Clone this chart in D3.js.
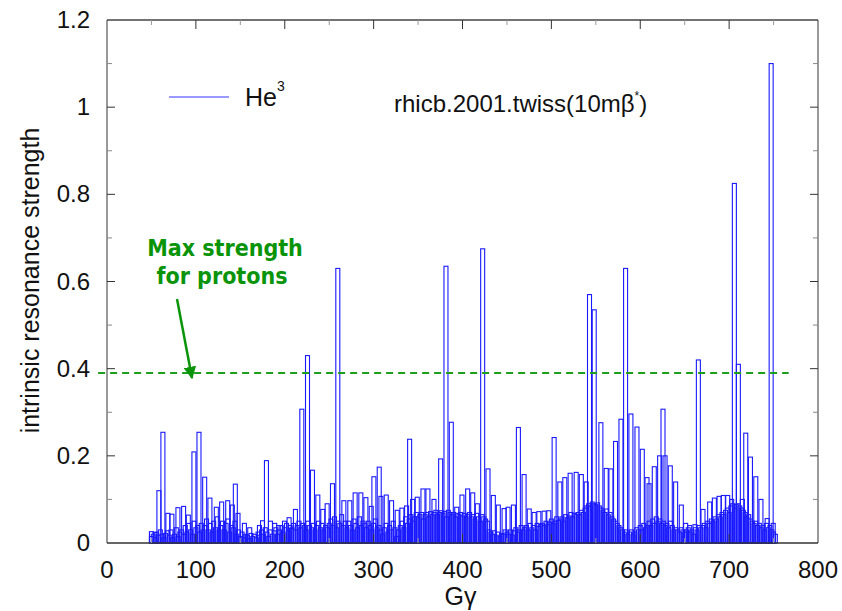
<!DOCTYPE html>
<html>
<head>
<meta charset="utf-8">
<script src="https://cdn.jsdelivr.net/npm/d3@7"></script>
<style>
  body { margin: 0; background: #fff; }
  text { font-family: "Liberation Sans", Arial, Helvetica, sans-serif; }
</style>
</head>
<body>
<div id="chart"></div>
<script>
// resonance positions (G gamma) and strengths of the outlined bars
let peakGG = [50, 54, 58.4, 62.9, 68.5, 73, 79.8, 86.2, 91.5, 97.8,
  103.5, 109.9, 115.8, 123, 129, 135.8, 141, 144.4, 147.4, 154.6,
  160.6, 171.5, 175, 179.4, 183.9, 188.7, 193.2, 199.7, 204.9, 207.6,
  212, 219.2, 225.6, 231.2, 237.2, 242.8, 247.7, 253.7, 259.7, 266.5,
  273.2, 279.2, 285.6, 291.3, 297.3, 300.3, 306.3, 308.2, 314.2, 320.2,
  326.5, 331.8, 337.1, 340.5, 343.9, 349.1, 355.5, 361.1, 367.9, 375.4,
  381.4, 387.4, 393.5, 399.4, 405.8, 411.5, 416.7, 422.7, 428.7, 434.7,
  440.3, 446.8, 451.3, 457.3, 462.9, 469.3, 475.1, 480.6, 485.9, 491.8,
  497.1, 503.1, 509.5, 515.1, 521.1, 527.9, 533.7, 539.2, 542.9, 548.2,
  555.7, 561.7, 567, 572.2, 578.3, 583.5, 589.5, 596.3, 602.3, 607.6,
  609.9, 615.8, 621.8, 625.6, 627.9, 633.8, 639.8, 646.2, 651.1, 655.6,
  661.6, 665.4, 670.6, 678.1, 683.4, 688.7, 693.5, 698.4, 702.9, 705.9,
  710.4, 714.9, 718.7, 724, 730, 735.8, 742.8, 747.3, 749.6];
let peakStrength = [.026, .024, .12, .254, .068, .066, .081, .084, .064, .209,
  .254, .151, .103, .082, .094, .097, .087, .135, .068, .045,
  .035, .04, .051, .189, .05, .045, .04, .05, .058, .033,
  .077, .307, .43, .167, .11, .077, .09, .136, .63, .097,
  .097, .115, .115, .104, .084, .152, .174, .107, .11, .097,
  .075, .08, .085, .238, .1, .105, .124, .124, .1, .193,
  .635, .277, .082, .11, .124, .115, .09, .675, .17, .109,
  .087, .079, .082, .087, .265, .157, .078, .07, .072, .073,
  .074, .242, .14, .15, .16, .162, .157, .14, .57, .535,
  .276, .171, .17, .233, .284, .63, .296, .266, .215, .15,
  .136, .175, .2, .307, .2, .177, .14, .087, .045, .04,
  .042, .42, .077, .094, .103, .107, .109, .109, .1, .825,
  .41, .1, .252, .197, .152, .1, .056, 1.1, .045];

// the dense carpet of weak resonances, one every 2 units of G gamma from 50
let denseStart = 50;
let denseStep = 2;
let denseStrength = [
  .015, .02, .012, .025, .018, .03, .02, .012, .022, .028,
  .018, .03, .012, .02, .035, .015, .025, .03, .02, .04,
  .025, .045, .03, .02, .05, .035, .04, .025, .045, .03,
  .04, .055, .03, .045, .025, .05, .035, .06, .03, .04,
  .05, .03, .045, .055, .025, .04, .035, .05, .02, .03,
  .015, .025, .012, .02, .018, .01, .022, .015, .02, .012,
  .025, .018, .03, .02, .035, .025, .015, .03, .02, .028,
  .035, .02, .03, .04, .025, .035, .045, .03, .04, .035,
  .045, .03, .04, .05, .035, .045, .04, .03, .05, .04,
  .035, .045, .03, .04, .05, .035, .045, .03, .04, .035,
  .045, .055, .04, .06, .035, .05, .045, .065, .04, .05,
  .035, .05, .04, .03, .055, .045, .035, .06, .04, .05,
  .045, .035, .05, .04, .03, .045, .055, .035, .04, .03,
  .02, .035, .045, .025, .04, .03, .05, .035, .015, .03,
  .04, .05, .035, .06, .045, .055, .065, .05, .06, .07,
  .06, .065, .07, .055, .065, .07, .06, .072, .065, .07,
  .075, .065, .07, .074, .068, .072, .06, .075, .07, .065,
  .07, .06, .068, .065, .07, .062, .068, .06, .065, .07,
  .06, .065, .055, .068, .06, .05, .065, .06, .055, .05,
  .03, .025, .02, .028, .018, .025, .015, .022, .02, .03,
  .025, .02, .03, .018, .028, .035, .025, .03, .04, .03,
  .035, .04, .03, .045, .035, .04, .03, .045, .038, .042,
  .045, .04, .05, .042, .048, .055, .045, .05, .06, .052,
  .055, .06, .05, .065, .058, .062, .07, .06, .068, .065,
  .07, .065, .075, .07, .08, .085, .09, .085, .094, .09,
  .088, .092, .085, .08, .075, .07, .078, .065, .07, .06,
  .055, .05, .045, .04, .035, .03, .025, .03, .02, .025,
  .03, .02, .025, .035, .03, .04, .03, .045, .035, .04,
  .05, .04, .055, .045, .06, .05, .055, .045, .05, .04,
  .045, .035, .05, .04, .03, .035, .03, .025, .035, .03,
  .025, .03, .035, .025, .03, .02, .035, .03, .04, .035,
  .04, .045, .035, .05, .045, .055, .05, .06, .055, .065,
  .06, .07, .065, .075, .08, .07, .085, .09, .08, .088,
  .09, .085, .08, .075, .07, .06, .065, .055, .05, .045,
  .05, .04, .045, .035, .04, .03, .045, .035, .04, .03,
  .025, .02];

let xTicks = [0, 100, 200, 300, 400, 500, 600, 700, 800];
let yTicks = [0, 0.2, 0.4, 0.6, 0.8, 1, 1.2];
let protonMax = 0.39;
let barWidth = 4.5; // in G gamma units

let areaWidth = 842;
let areaHeight = 611;
let border = { top: 20, bottom: 68, right: 24, left: 107 };
let width = areaWidth - border.left - border.right;
let height = areaHeight - border.top - border.bottom;

let svg = d3.select("#chart").append("svg")
  .attr("width", areaWidth)
  .attr("height", areaHeight);

let plotGroup = svg.append("g")
  .attr("transform", `translate(${border.left}, ${border.top})`);

let xScale = d3.scaleLinear().domain([0, 800]).range([0, width]);
let yScale = d3.scaleLinear().domain([0, 1.2]).range([height, 0]);

let peaks = peakGG.map((g, i) => ({ gg: g, s: peakStrength[i] }));
let dense = denseStrength.map((s, i) => ({ gg: denseStart + i * denseStep, s: s }));

function drawBars(data, cls) {
  plotGroup.append("g").attr("class", cls)
    .selectAll("rect").data(data).enter().append("rect")
    .attr("x", d => xScale(d.gg - barWidth / 2))
    .attr("y", d => yScale(d.s))
    .attr("width", xScale(barWidth) - xScale(0))
    .attr("height", d => yScale(0) - yScale(d.s))
    .attr("fill", "none")
    .attr("stroke", "#1a1aff")
    .attr("stroke-width", 1.1);
}

drawBars(dense, "dense");
drawBars(peaks, "peaks");

// frame with inward ticks, gnuplot style
let frame = plotGroup.append("g");
frame.append("line").attr("x1", 0).attr("x2", 0).attr("y1", 0).attr("y2", height)
  .attr("stroke", "#999").attr("stroke-width", 2);
frame.append("line").attr("x1", width).attr("x2", width).attr("y1", 0).attr("y2", height)
  .attr("stroke", "#999").attr("stroke-width", 2);
frame.append("line").attr("x1", 0).attr("x2", width).attr("y1", 0).attr("y2", 0)
  .attr("stroke", "#444").attr("stroke-width", 1.5);
frame.append("line").attr("x1", 0).attr("x2", width).attr("y1", height).attr("y2", height)
  .attr("stroke", "#333").attr("stroke-width", 1.5);

let yMinor = d3.range(1, 12).map(d => d / 10);
frame.selectAll(".ytickL").data(yMinor).enter().append("line")
  .attr("x1", 0).attr("x2", (d, i) => i % 2 === 1 ? 8 : 5)
  .attr("y1", d => yScale(d)).attr("y2", d => yScale(d))
  .attr("stroke", (d, i) => i % 2 === 1 ? "#333" : "#888").attr("stroke-width", 1);
frame.selectAll(".ytickR").data(yMinor).enter().append("line")
  .attr("x1", width).attr("x2", (d, i) => width - (i % 2 === 1 ? 8 : 5))
  .attr("y1", d => yScale(d)).attr("y2", d => yScale(d))
  .attr("stroke", (d, i) => i % 2 === 1 ? "#333" : "#888").attr("stroke-width", 1);

let xMinor = d3.range(50, 800, 50);
frame.selectAll(".xtickT").data(xMinor).enter().append("line")
  .attr("x1", d => xScale(d)).attr("x2", d => xScale(d))
  .attr("y1", 0).attr("y2", d => d % 100 === 0 ? 9 : 5)
  .attr("stroke", d => d % 100 === 0 ? "#333" : "#999").attr("stroke-width", 1);
frame.selectAll(".xtickB").data(xMinor).enter().append("line")
  .attr("x1", d => xScale(d)).attr("x2", d => xScale(d))
  .attr("y1", height).attr("y2", d => height - (d % 100 === 0 ? 9 : 5))
  .attr("stroke", d => d % 100 === 0 ? "#333" : "#999").attr("stroke-width", 1);

// tick labels
plotGroup.selectAll(".ylab").data(yTicks).enter().append("text")
  .attr("x", -17).attr("y", d => yScale(d) + 8)
  .attr("text-anchor", "end").attr("font-size", "24px").attr("fill", "#111")
  .text(d => d3.format("~g")(d));
plotGroup.selectAll(".xlab").data(xTicks).enter().append("text")
  .attr("x", d => xScale(d)).attr("y", height + 35)
  .attr("text-anchor", "middle").attr("font-size", "24px").attr("fill", "#111")
  .text(d => d);

// axis titles
svg.append("text")
  .attr("transform", `translate(39, ${border.top + height / 2 - 1}) rotate(-90)`)
  .attr("text-anchor", "middle").attr("font-size", "25px").attr("fill", "#111")
  .text("intrinsic resonance strength");
svg.append("text")
  .attr("x", border.left + width / 2 - 2).attr("y", 605)
  .attr("text-anchor", "middle").attr("font-size", "25px").attr("fill", "#111")
  .text("Gγ");

// proton limit
plotGroup.append("line")
  .attr("x1", xScale(-10)).attr("x2", xScale(767))
  .attr("y1", yScale(protonMax)).attr("y2", yScale(protonMax))
  .attr("stroke", "#1d9f1d").attr("stroke-width", 2)
  .attr("stroke-dasharray", "7,5");

let green = "#0a940a";
svg.append("defs").append("marker")
  .attr("id", "head").attr("viewBox", "0 0 10 10")
  .attr("refX", 9).attr("refY", 5)
  .attr("markerWidth", 5).attr("markerHeight", 5)
  .attr("orient", "auto")
  .append("path").attr("d", "M0,0 L10,5 L0,10 z").attr("fill", green);
svg.append("line")
  .attr("x1", 177).attr("y1", 299).attr("x2", 192).attr("y2", 378)
  .attr("stroke", green).attr("stroke-width", 2.5)
  .attr("marker-end", "url(#head)");

let note = svg.append("text")
  .attr("text-anchor", "middle").attr("fill", green)
  .attr("font-weight", "bold").attr("font-size", "23px")
  .style("font-family", "'DejaVu Sans Condensed', 'DejaVu Sans', sans-serif");
note.append("tspan").attr("x", 225).attr("y", 256).text("Max strength");
note.append("tspan").attr("x", 222).attr("y", 284).text("for protons");

// legend and run label
svg.append("line").attr("x1", 169).attr("x2", 229).attr("y1", 97).attr("y2", 97)
  .attr("stroke", "#9999ff").attr("stroke-width", 2);
let he = svg.append("text").attr("x", 245).attr("y", 106)
  .attr("font-size", "25px").attr("fill", "#111");
he.append("tspan").text("He");
he.append("tspan").attr("dy", -15).attr("font-size", "14px").text("3");

let run = svg.append("text").attr("x", 394).attr("y", 112)
  .attr("font-size", "24px").attr("fill", "#111");
run.append("tspan").text("rhicb.2001.twiss(10mβ");
run.append("tspan").attr("dy", -12).attr("font-size", "12px").text("*");
run.append("tspan").attr("dy", 12).text(")");
</script>
</body>
</html>
